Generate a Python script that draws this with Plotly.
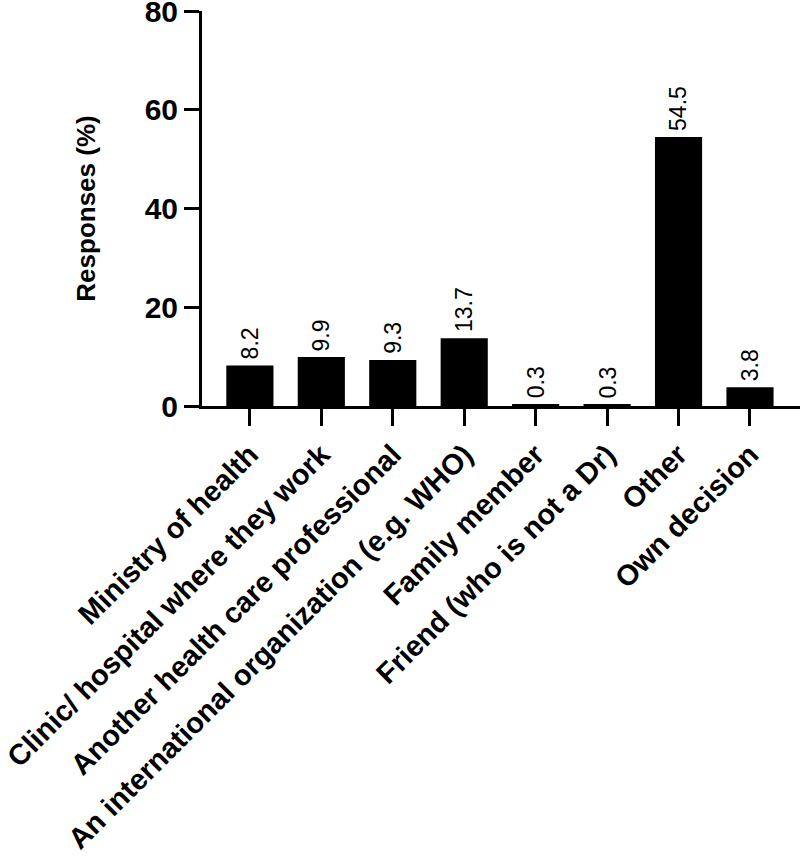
import plotly.graph_objects as go

categories = [
    "Ministry of health",
    "Clinic/ hospital where they work",
    "Another health care professional",
    "An international organization (e.g. WHO)",
    "Family member",
    "Friend (who is not a Dr)",
    "Other",
    "Own decision",
]
responses = [8.2, 9.9, 9.3, 13.7, 0.3, 0.3, 54.5, 3.8]
y_ticks = [0, 20, 40, 60, 80]

FONT = "Liberation Sans, Arial, sans-serif"

fig = go.Figure(
    go.Bar(
        x=categories,
        y=responses,
        width=0.66,
        marker=dict(color="black", line=dict(width=0)),
        hovertemplate="%{x}<br><b>%{y:.1f}%</b><extra></extra>",
    )
)

# value labels above the bars, rotated like the original
for cat, val in zip(categories, responses):
    fig.add_annotation(
        x=cat,
        y=val,
        text=f"{val:.1f}",
        textangle=-90,
        showarrow=False,
        yanchor="bottom",
        yshift=4,
        font=dict(family=FONT, size=23, color="black"),
    )

fig.update_layout(
    width=800,
    height=858,
    margin=dict(l=202, r=0, t=11, b=452),
    paper_bgcolor="white",
    plot_bgcolor="white",
    font=dict(family=FONT, color="black"),
    showlegend=False,
)
fig.update_xaxes(
    range=[-0.67, 7.7],
    automargin=False,
    showline=True,
    linecolor="black",
    linewidth=3,
    ticks="outside",
    ticklen=17,
    tickwidth=3,
    tickcolor="black",
    tickangle=-45,
    ticklabeloverflow="allow",
    tickfont=dict(family=FONT, size=29, color="black", weight="bold"),
    showgrid=False,
)
fig.update_yaxes(
    range=[0, 80],
    automargin=False,
    tickvals=y_ticks,
    showline=True,
    linecolor="black",
    linewidth=3,
    ticks="outside",
    ticklen=15,
    tickwidth=3,
    tickcolor="black",
    ticklabeloverflow="allow",
    tickfont=dict(family=FONT, size=30, color="black", weight="bold"),
    showgrid=False,
    zeroline=False,
    title=dict(
        text="Responses (%)",
        font=dict(family=FONT, size=26, color="black", weight="bold"),
        standoff=42,
    ),
)

# drop the browser's default body margin so the figure fills the window
fig.write_html(
    "out.html",
    config={"displayModeBar": False},
    post_script="document.body.style.margin = '0';",
)
